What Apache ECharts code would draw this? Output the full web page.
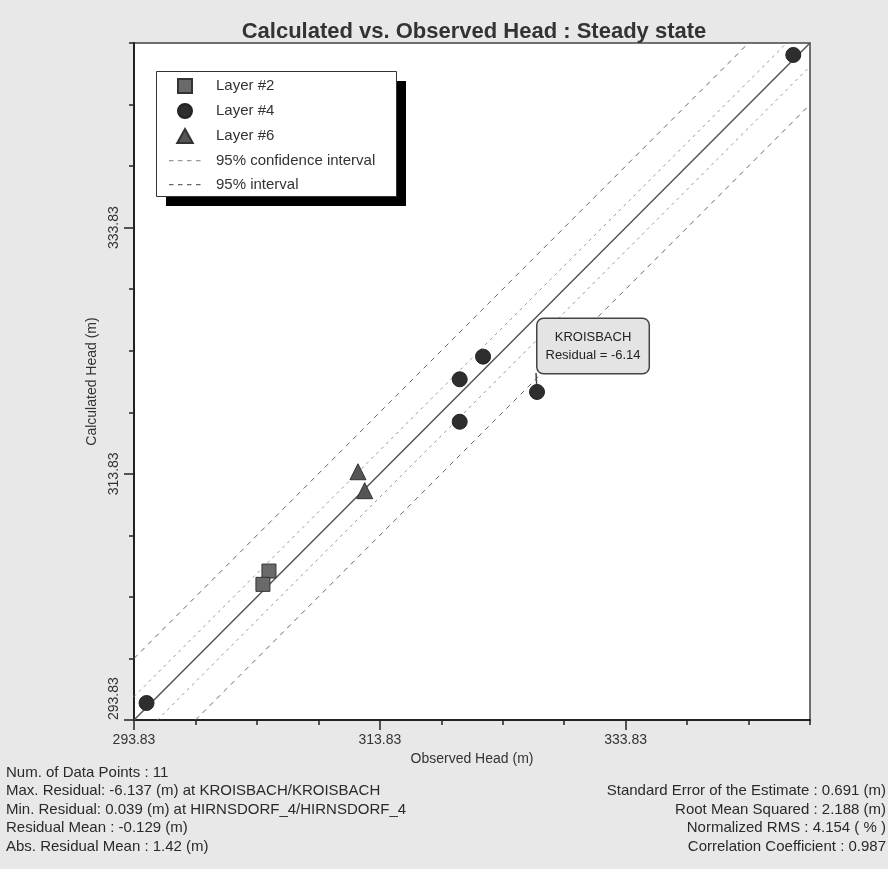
<!DOCTYPE html>
<html>
<head>
<meta charset="utf-8">
<script src="https://cdn.jsdelivr.net/npm/echarts@6/dist/echarts.min.js"></script>
<style>
html,body{margin:0;padding:0;background:#e8e8e8;}
#chart{width:888px;height:869px;}
</style>
</head>
<body>
<div id="chart"></div>
<script>
// ---- data ----
const axisMin = 293.83;
const axisMax = 348.83;
const majorTicks = [293.83, 313.83, 333.83];
const minorTicks = [298.83, 303.83, 308.83, 318.83, 323.83, 328.83, 338.83, 343.83, 348.83];

// [observed, calculated]
const layer2 = [[304.81, 305.93], [304.32, 304.85]];
const layer4 = [[294.85, 295.21], [322.23, 323.35], [320.33, 321.51], [320.33, 318.06], [326.62, 320.48], [347.47, 347.86]];
const layer4Names = ['', '', '', '', 'KROISBACH', ''];
const layer6 = [[312.05, 314.00], [312.60, 312.46]];

const oneToOne = [[293.83, 293.83], [348.83, 348.83]];
const ciUpper = [[293.83, 295.73], [346.93, 348.83]];
const ciLower = [[295.73, 293.83], [348.83, 346.93]];
const piUpper = [[293.83, 298.83], [343.83, 348.83]];
const piLower = [[298.83, 293.83], [348.83, 343.83]];

const legendNames = ['Layer #2', 'Layer #4', 'Layer #6', '95% confidence interval', '95% interval'];

const leftStats = [
  'Num. of Data Points : 11',
  'Max. Residual: -6.137 (m) at KROISBACH/KROISBACH',
  'Min. Residual: 0.039 (m) at HIRNSDORF_4/HIRNSDORF_4',
  'Residual Mean : -0.129 (m)',
  'Abs. Residual Mean : 1.42 (m)'
];
const rightStats = [
  '',
  'Standard Error of the Estimate : 0.691 (m)',
  'Root Mean Squared : 2.188 (m)',
  'Normalized RMS : 4.154 ( % )',
  'Correlation Coefficient : 0.987'
];

// ---- chart ----
const FONT = '"Liberation Sans", Arial, sans-serif';
const chart = echarts.init(document.getElementById('chart'), null, {renderer: 'canvas'});

const layer4Data = layer4.map((p, i) => {
  const d = {value: p, name: layer4Names[i]};
  if (layer4Names[i]) {
    const res = (p[1] - p[0]).toFixed(2);
    d.label = {
      show: true,
      position: 'inside',
      offset: [56, -46],
      formatter: layer4Names[i] + '\nResidual = ' + res,
      fontFamily: FONT,
      fontSize: 13,
      lineHeight: 18,
      color: '#222',
      align: 'center',
      backgroundColor: '#e4e4e4',
      borderColor: '#444',
      borderWidth: 1.5,
      borderRadius: 6,
      padding: [9, 8]
    };
    d.labelLine = {show: true, lineStyle: {color: '#444', width: 1.5}};
  }
  return d;
});

const graphics = [
  {type: 'rect', z: 3, shape: {x: 166, y: 81, width: 240, height: 125}, style: {fill: '#000'}},
  {type: 'rect', z: 3, shape: {x: 156.5, y: 71.5, width: 240, height: 125}, style: {fill: '#fff', stroke: '#333', lineWidth: 1}}
];
const rowY = [772, 790.5, 809, 827.5, 846];
leftStats.forEach((t, i) => {
  graphics.push({type: 'text', left: 6, top: rowY[i] - 7,
    style: {text: t, font: '15px ' + FONT, fill: '#2a2a2a'}});
});
rightStats.forEach((t, i) => {
  if (!t) return;
  graphics.push({type: 'text', right: 2, top: rowY[i] - 7,
    style: {text: t, font: '15px ' + FONT, fill: '#2a2a2a'}});
});

const mainAxis = (isX) => ({
  type: 'value',
  min: axisMin,
  max: axisMax,
  position: isX ? 'bottom' : 'left',
  name: isX ? 'Observed Head (m)' : 'Calculated Head (m)',
  nameLocation: 'middle',
  nameGap: isX ? 32 : 30,
  nameRotate: isX ? 0 : 90,
  nameTextStyle: {fontFamily: FONT, fontSize: 14, color: '#333'},
  axisLine: {show: true, lineStyle: {color: '#222', width: 2}},
  axisTick: {show: true, customValues: majorTicks, length: 10, lineStyle: {color: '#222', width: 1.5}},
  axisLabel: Object.assign({show: true, customValues: majorTicks, margin: 13, rotate: isX ? 0 : 90,
    fontFamily: FONT, fontSize: 14, color: '#333', formatter: v => v.toFixed(2)},
    isX ? {} : {alignMinLabel: 'left'}),
  splitLine: {show: false},
  minorTick: {show: false}
});
const minorAxis = (isX) => ({
  type: 'value',
  min: axisMin,
  max: axisMax,
  position: isX ? 'bottom' : 'left',
  axisLine: {show: false},
  axisTick: {show: true, customValues: minorTicks, length: 5, lineStyle: {color: '#222', width: 1.5}},
  axisLabel: {show: false},
  splitLine: {show: false}
});

const lineSeries = (name, data, color, type, width, z) => ({
  name: name, type: 'line', data: data, symbol: 'none', silent: true, z: z,
  lineStyle: {color: color, type: type, width: width}, itemStyle: {color: color},
  animation: false
});

const dashIcon = 'path://M0,0L0.01,0L0.01,0.01Z M0,6.4h4.5v1.3h-4.5z M9,6.4h4.5v1.3h-4.5z M18,6.4h4.5v1.3h-4.5z M27,6.4h4.5v1.3h-4.5z M31.99,14L32,14L32,13.99Z';

chart.setOption({
  backgroundColor: '#e8e8e8',
  animation: false,
  title: {
    text: 'Calculated vs. Observed Head : Steady state',
    left: 469, textAlign: 'center', top: 16,
    textStyle: {fontFamily: FONT, fontSize: 22, fontWeight: 'bold', color: '#333'}
  },
  grid: {left: 134, right: 78, top: 43, bottom: 149, show: true,
    backgroundColor: '#ffffff', borderColor: '#444', borderWidth: 1.5, containLabel: false},
  xAxis: [mainAxis(true), minorAxis(true)],
  yAxis: [mainAxis(false), minorAxis(false)],
  legend: {
    orient: 'vertical', left: 156, top: 71, z: 4,
    padding: [7, 19, 7, 13], itemGap: 9, itemWidth: 32, itemHeight: 14,
    symbolKeepAspect: true,
    textStyle: {fontFamily: FONT, fontSize: 15, lineHeight: 15, color: '#333', padding: [0, 0, 0, 10]},
    data: [
      {name: legendNames[0], icon: 'path://M0,0L10,0L10,10L0,10Z'},
      {name: legendNames[1], icon: 'circle'},
      {name: legendNames[2], icon: 'path://M5,0L10,9L0,9Z'},
      {name: legendNames[3], icon: dashIcon},
      {name: legendNames[4], icon: dashIcon}
    ],
    selectedMode: false
  },
  graphic: graphics,
  series: [
    lineSeries('1:1', oneToOne, '#555', 'solid', 1.5, 2),
    lineSeries(legendNames[3], ciUpper, '#999', [3, 4], 1, 1),
    lineSeries(legendNames[3], ciLower, '#999', [3, 4], 1, 1),
    lineSeries(legendNames[4], piUpper, '#666', [5, 5], 1, 1),
    lineSeries(legendNames[4], piLower, '#666', [5, 5], 1, 1),
    {name: legendNames[0], type: 'scatter', symbol: 'rect', symbolSize: 14, data: layer2, z: 5,
      itemStyle: {color: '#6a6a6a', borderColor: '#333', borderWidth: 1, opacity: 1}},
    {name: legendNames[1], type: 'scatter', symbol: 'circle', symbolSize: 15, data: layer4Data, z: 5,
      itemStyle: {color: '#2e2e2e', borderColor: '#222', borderWidth: 1, opacity: 1}},
    {name: legendNames[2], type: 'scatter', symbol: 'triangle', symbolSize: 16, data: layer6, z: 5,
      itemStyle: {color: '#555', borderColor: '#333', borderWidth: 1, opacity: 1}}
  ]
});
</script>
</body>
</html>
